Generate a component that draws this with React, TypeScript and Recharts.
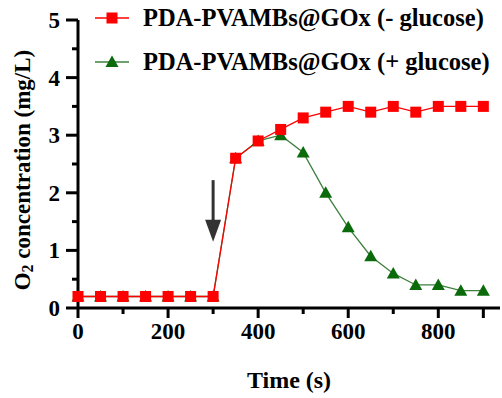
import {
  LineChart,
  Line,
  XAxis,
  YAxis,
  ReferenceLine,
  Label
} from 'recharts';

// Data
const times = [0, 50, 100, 150, 200, 250, 300, 350, 400, 450, 500, 550, 600, 650, 700, 750, 800, 850, 900];
const withoutGlucose = [0.2, 0.2, 0.2, 0.2, 0.2, 0.2, 0.2, 2.6, 2.9, 3.1, 3.3, 3.4, 3.5, 3.4, 3.5, 3.4, 3.5, 3.5, 3.5];
const withGlucose = [0.2, 0.2, 0.2, 0.2, 0.2, 0.2, 0.2, 2.6, 2.9, 3.0, 2.7, 2.0, 1.4, 0.9, 0.6, 0.4, 0.4, 0.3, 0.3];

const xTicks = [0, 100, 200, 300, 400, 500, 600, 700, 800, 900];
const xLabelTicks = [0, 200, 400, 600, 800];
const yTicks = [0, 0.5, 1, 1.5, 2, 2.5, 3, 3.5, 4, 4.5, 5];
const yLabelTicks = [0, 1, 2, 3, 4, 5];

// glucose addition arrow (time, from -> to concentration)
const arrowTime = 300;
const arrowFrom = 2.22;
const arrowTo = 1.15;

const seriesMinus = 'PDA-PVAMBs@GOx (- glucose)';
const seriesPlus = 'PDA-PVAMBs@GOx (+ glucose)';

const data = times.map((t, i) => ({
  time: t,
  minus: withoutGlucose[i],
  plus: withGlucose[i],
}));

const RED = '#ff0000';
const GREEN = '#0b6b0b';
const GREEN_LINE = '#3d803d';
const FONT = '"Liberation Serif", "Times New Roman", serif';
const textStyle = { fontFamily: FONT, fontWeight: 'bold' as const, fill: '#000' };

const Square = (props: any) => {
  const { cx, cy } = props;
  if (cx == null || cy == null) return null;
  return <rect x={cx - 5.5} y={cy - 5.5} width={11} height={11} fill={RED} />;
};

const Triangle = (props: any) => {
  const { cx, cy } = props;
  if (cx == null || cy == null) return null;
  return <path d={`M${cx},${cy - 6.5} L${cx + 6.5},${cy + 5} L${cx - 6.5},${cy + 5} Z`} fill={GREEN} />;
};

const XTick = (props: any) => {
  const { x, y, payload } = props;
  const major = xLabelTicks.includes(payload.value) || payload.value === 900;
  return (
    <g>
      <line x1={x} y1={y} x2={x} y2={y + (major ? 10 : 6)} stroke="#000" strokeWidth={3} />
      {xLabelTicks.includes(payload.value) && (
        <text x={x} y={y + 31} textAnchor="middle" style={{ ...textStyle, fontSize: 23 }}>
          {payload.value}
        </text>
      )}
    </g>
  );
};

const YTick = (props: any) => {
  const { x, y, payload } = props;
  const major = yLabelTicks.includes(payload.value);
  return (
    <g>
      <line x1={x} y1={y} x2={x - (major ? 12 : 6)} y2={y} stroke="#000" strokeWidth={3} />
      {major && (
        <text x={x - 18} y={y + 8} textAnchor="end" style={{ ...textStyle, fontSize: 23 }}>
          {payload.value}
        </text>
      )}
    </g>
  );
};

const Arrow = (props: any) => {
  const { x1, y1, y2 } = props;
  if (x1 == null) return null;
  return (
    <g>
      <line x1={x1} y1={y1} x2={x1} y2={y2 - 16} stroke="#333" strokeWidth={3} />
      <path d={`M${x1 - 8},${y2 - 22} L${x1 + 8},${y2 - 22} L${x1},${y2} Z`} fill="#333" />
    </g>
  );
};

const legendItems = [
  { name: seriesMinus, color: RED, lineColor: RED, shape: 'square' },
  { name: seriesPlus, color: GREEN, lineColor: GREEN_LINE, shape: 'triangle' },
];

function ChartLegend() {
  return (
    <div style={{ position: 'absolute', left: 95, top: -4 }}>
      {legendItems.map((item) => (
        <div key={item.name} style={{ display: 'flex', alignItems: 'center', height: 44 }}>
          <svg width={34} height={16}>
            <line x1={0} y1={8} x2={34} y2={8} stroke={item.lineColor} strokeWidth={1.3} />
            {item.shape === 'square' ? (
              <rect x={11.5} y={2.5} width={11} height={11} fill={item.color} />
            ) : (
              <path d="M17,1.5 L23.5,13 L10.5,13 Z" fill={item.color} />
            )}
          </svg>
          <span style={{ marginLeft: 14, fontFamily: FONT, fontWeight: 'bold', fontSize: 24.5, color: '#000', whiteSpace: 'nowrap' }}>
            {item.name}
          </span>
        </div>
      ))}
    </div>
  );
}

export default function App() {
  return (
    <div style={{ position: 'absolute', left: 0, top: 0, width: 502, height: 398, background: '#fff' }}>
      <LineChart width={502} height={398} data={data} margin={{ top: 20, right: 2, left: 0, bottom: 0 }}>
        <XAxis
          dataKey="time"
          type="number"
          domain={[0, 937]}
          ticks={xTicks}
          interval={0}
          tick={<XTick />}
          tickLine={false}
          tickSize={0}
          tickMargin={0}
          height={90}
          axisLine={{ stroke: '#000', strokeWidth: 3 }}
        >
          <Label
            value="Time (s)"
            position="insideBottom"
            offset={10}
            style={{ ...textStyle, fontSize: 24 }}
          />
        </XAxis>
        <YAxis
          type="number"
          domain={[0, 5]}
          ticks={yTicks}
          interval={0}
          tick={<YTick />}
          tickLine={false}
          tickSize={0}
          tickMargin={0}
          width={78}
          axisLine={{ stroke: '#000', strokeWidth: 3 }}
        >
          <Label
            content={(p: any) => {
              const vb = p.viewBox || {};
              const cx = (vb.x || 0) + 22;
              const cy = (vb.y || 0) + (vb.height || 0) / 2 + 6;
              return (
                <text
                  x={cx}
                  y={cy}
                  transform={`rotate(-90, ${cx}, ${cy})`}
                  textAnchor="middle"
                  dominantBaseline="central"
                  style={{ ...textStyle, fontSize: 23 }}
                >
                  <tspan>O</tspan>
                  <tspan style={{ fontSize: 16 }} dy={5}>2</tspan>
                  <tspan dy={-5}> concentration (mg/L)</tspan>
                </text>
              );
            }}
          />
        </YAxis>
        <ReferenceLine
          segment={[
            { x: arrowTime, y: arrowFrom },
            { x: arrowTime, y: arrowTo },
          ]}
          shape={<Arrow />}
        />
        <Line
          type="linear"
          dataKey="plus"
          name={seriesPlus}
          stroke={GREEN_LINE}
          strokeWidth={1.3}
          dot={<Triangle />}
          activeDot={false}
          isAnimationActive={false}
        />
        <Line
          type="linear"
          dataKey="minus"
          name={seriesMinus}
          stroke={RED}
          strokeWidth={1.3}
          dot={<Square />}
          activeDot={false}
          isAnimationActive={false}
        />
      </LineChart>
      <ChartLegend />
    </div>
  );
}
